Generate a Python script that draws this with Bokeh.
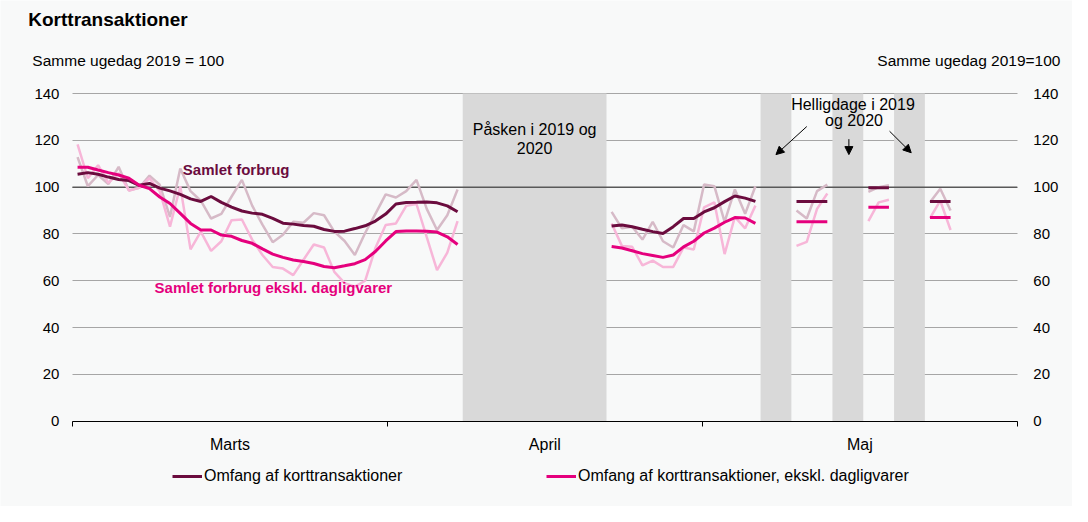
from bokeh.plotting import figure
from bokeh.models import (Range1d, LinearAxis, FixedTicker, Label, Arrow,
                          NormalHead, Legend, LegendItem)
from bokeh.embed import file_html
from bokeh.resources import INLINE

# ---------------- data (day index: 0 = 1 March 2020) ----------------
month_names = ["Marts", "April", "Maj"]

# Segment 1: 1 March - 7 April
seg1_days = list(range(0, 38))
samlet_avg_1 = [105.5, 106.2, 105.5, 104.3, 103.3, 102.8, 100.8, 101.6, 99.6, 98.4,
                96.9, 95.0, 93.9, 96.0, 93.5, 91.5, 89.8, 88.9, 88.4, 86.7,
                84.6, 84.2, 83.6, 83.3, 81.9, 81.1, 81.2, 82.3, 83.5, 85.5,
                88.5, 92.8, 93.4, 93.5, 93.7, 93.3, 92.0, 89.5]
ekskl_avg_1 = [108.5, 108.5, 107.3, 106.2, 105.2, 103.8, 100.8, 99.4, 95.8, 93.0,
               88.8, 84.5, 81.7, 81.7, 79.5, 79.0, 77.2, 76.0, 73.6, 71.4,
               70.0, 68.9, 68.2, 67.4, 66.1, 65.6, 66.4, 67.3, 69.0, 72.5,
               77.0, 81.0, 81.3, 81.3, 81.2, 80.8, 78.8, 75.5]
samlet_daily_1 = [112.8, 100.4, 105.2, 101.3, 108.7, 98.6, 99.7, 104.9, 101.0, 87.3,
                  108.0, 98.3, 94.2, 86.6, 88.6, 96.0, 103.1, 92.1, 84.0, 76.5,
                  79.7, 85.2, 84.8, 88.9, 88.0, 81.0, 77.0, 71.0, 80.4, 88.6,
                  96.9, 95.6, 98.3, 103.1, 90.7, 81.7, 88.0, 99.0]
ekskl_daily_1 = [118.3, 103.8, 109.4, 101.8, 106.0, 98.6, 99.7, 103.8, 98.3, 83.1,
                 100.4, 73.4, 81.0, 72.8, 76.9, 85.9, 86.2, 77.6, 71.0, 65.9,
                 65.2, 62.4, 69.0, 75.5, 74.2, 63.8, 59.0, 57.5, 60.0, 74.0,
                 83.8, 84.5, 92.0, 92.8, 78.6, 64.5, 72.0, 85.5]

# Segment 2: 22 April - 6 May
seg2_days = list(range(52, 67))
samlet_avg_2 = [83.4, 83.8, 83.1, 82.0, 81.0, 80.2, 83.1, 86.6, 86.6, 89.4,
                91.2, 93.8, 96.2, 95.3, 93.9]
ekskl_avg_2 = [74.6, 74.0, 72.8, 71.6, 70.8, 70.0, 71.0, 74.5, 76.9, 80.4,
               82.5, 85.0, 87.0, 86.8, 84.5]
samlet_daily_2 = [89.4, 82.4, 83.1, 77.6, 85.2, 76.9, 74.2, 83.8, 81.1, 101.1,
                  100.4, 85.2, 99.0, 88.6, 100.4]
ekskl_daily_2 = [84.5, 74.9, 74.5, 66.6, 68.6, 65.9, 65.9, 74.2, 73.4, 91.4,
                 93.5, 71.4, 87.3, 82.4, 92.1]

# Short May segments between holidays
may_days = [[70, 71, 72, 73], [77, 78, 79], [83, 84, 85]]
samlet_daily_may = [[90.0, 86.6, 98.3, 101.1], [98.0, 100.0, 100.8], [93.5, 99.3, 90.0]]
ekskl_daily_may = [[74.9, 76.6, 90.7, 97.3], [85.5, 93.5, 94.6], [86.8, 94.2, 81.7]]
samlet_avg_may = [93.9, 99.7, 93.9]
ekskl_avg_may = [85.2, 91.4, 87.0]

# Closed periods (Easter and holidays), day index
closed_start = [37.5, 66.5, 73.5, 79.5]
closed_end = [51.5, 69.5, 76.5, 82.5]

y_ticks = [0, 20, 40, 60, 80, 100, 120, 140]
reference_level = 100

# ---------------- styling / layout ----------------
FONT = "Liberation Sans"
BG = "#f8f9f9"
DARK = "#6b0c3e"
PINK = "#e5007d"
DARK_LIGHT = "#d6bac7"
PINK_LIGHT = "#f7b6d8"
SHADE = "#d9d9d9"
GRID = "#a6a6a6"

W, H = 1072, 506
X0, X1 = -0.5, 91.5          # axis extent (days)
Y0, Y1 = 0, 140              # axis extent (index)
# the frame fills the whole figure; axes sit at fixed locations inside it
XL, XR = -7.503, 96.873
YB, YT = -36.45, 179.75

p = figure(width=W, height=H, output_backend="svg", toolbar_location=None,
           x_range=Range1d(XL, XR), y_range=Range1d(YB, YT),
           min_border=0, background_fill_color=BG, border_fill_color=BG,
           outline_line_color=None)

# horizontal grid limited to the axis extent
p.ygrid.ticker = FixedTicker(ticks=y_ticks)
p.xgrid.grid_line_color = None
try:
    p.ygrid.cross_bounds = (X0, X1)
    p.ygrid.grid_line_color = GRID
    p.ygrid.grid_line_width = 1
except AttributeError:
    p.ygrid.grid_line_color = None
    p.segment(x0=[X0] * len(y_ticks), x1=[X1] * len(y_ticks), y0=y_ticks, y1=y_ticks,
              line_color=GRID, line_width=1)

# shaded closures
p.quad(left=closed_start, right=closed_end, bottom=Y0, top=Y1,
       fill_color=SHADE, line_color=None)

# reference line at 100
p.segment(x0=[X0], x1=[X1], y0=[reference_level], y1=[reference_level],
          line_color="#595959", line_width=1.5)

# daily (light) lines
for d, s, e in [(seg1_days, samlet_daily_1, ekskl_daily_1),
                (seg2_days, samlet_daily_2, ekskl_daily_2)] + \
        list(zip(may_days, samlet_daily_may, ekskl_daily_may)):
    p.line(d, s, line_color=DARK_LIGHT, line_width=2.5)
    p.line(d, e, line_color=PINK_LIGHT, line_width=2.5)

# averages
r_dark = p.line(seg1_days, samlet_avg_1, line_color=DARK, line_width=3)
r_pink = p.line(seg1_days, ekskl_avg_1, line_color=PINK, line_width=3)
p.line(seg2_days, samlet_avg_2, line_color=DARK, line_width=3)
p.line(seg2_days, ekskl_avg_2, line_color=PINK, line_width=3)
p.segment(x0=[d[0] for d in may_days], x1=[d[-1] for d in may_days],
          y0=samlet_avg_may, y1=samlet_avg_may, line_color=DARK, line_width=3)
p.segment(x0=[d[0] for d in may_days], x1=[d[-1] for d in may_days],
          y0=ekskl_avg_may, y1=ekskl_avg_may, line_color=PINK, line_width=3)

# ---------------- axes ----------------
edges = [X0 + k * (X1 - X0) / 3 for k in range(4)]
centers = [(edges[k] + edges[k + 1]) / 2 for k in range(3)]
xa = p.xaxis[0]
xa.fixed_location = Y0
xa.bounds = (X0, X1)
xa.ticker = FixedTicker(ticks=centers, minor_ticks=edges)
xa.major_label_overrides = {c: n for c, n in zip(centers, month_names)}
xa.major_tick_line_color = None
xa.major_tick_out = 0
xa.major_tick_in = 0
xa.minor_tick_out = 5
xa.minor_tick_in = 0
xa.minor_tick_line_color = "black"
xa.axis_line_color = "black"
xa.major_label_standoff = 10
xa.major_label_text_font = FONT
xa.major_label_text_font_size = "16px"
xa.major_label_text_color = "black"

ya = p.yaxis[0]
ya.fixed_location = X0
ya.bounds = (Y0, Y1)
ya.ticker = FixedTicker(ticks=y_ticks)
ya.axis_line_color = None
ya.major_tick_line_color = None
ya.minor_tick_line_color = None
ya.major_tick_out = 0
ya.major_label_standoff = 13
ya.major_label_text_font = FONT
ya.major_label_text_font_size = "15px"
ya.major_label_text_color = "black"

yr = LinearAxis(ticker=FixedTicker(ticks=y_ticks), fixed_location=X1, bounds=(Y0, Y1),
                axis_line_color=None, major_tick_line_color=None,
                minor_tick_line_color=None, major_tick_out=0,
                major_label_standoff=16, major_label_text_font=FONT,
                major_label_text_font_size="15px", major_label_text_color="black")
p.add_layout(yr, "right")

# ---------------- texts ----------------
def label(text, x, y, size, align="left", bold=False, color="black"):
    p.add_layout(Label(x=x, y=y, text=text, text_font=FONT, text_font_size=size,
                       text_align=align, text_baseline="middle", text_color=color,
                       text_font_style="bold" if bold else "normal"))

label("Korttransaktioner", -4.8, 171.7, "19px", bold=True)
label("Samme ugedag 2019 = 100", -4.4, 154.1, "15.5px")
label("Samme ugedag 2019=100", 95.7, 154.1, "15.5px", align="right")

label("Samlet forbrug", 10.25, 107.7, "15px", bold=True, color=DARK)
label("Samlet forbrug ekskl. dagligvarer", 7.5, 57.2, "15px", bold=True, color=PINK)
easter_mid = (closed_start[0] + closed_end[0]) / 2
label("Påsken i 2019 og", easter_mid, 124.7, "16px", align="center")
label("2020", easter_mid, 116.8, "16px", align="center")
label("Helligdage i 2019", 75.5, 135.5, "16px", align="center")
label("og 2020", 75.6, 128.4, "16px", align="center")

for xs, ys, xe, ye in [(71.0, 125.9, 68.0, 113.9), (75.1, 120.5, 75.1, 113.9),
                       (79.06, 123.9, 81.17, 114.7)]:
    p.add_layout(Arrow(end=NormalHead(size=8, fill_color="black", line_color="black"),
                       x_start=xs, y_start=ys, x_end=xe, y_end=ye,
                       line_color="black", line_width=1))

# ---------------- legend (inside the frame, under the x axis) ----------------
legend = Legend(items=[LegendItem(label="Omfang af korttransaktioner", renderers=[r_dark]),
                       LegendItem(label="Omfang af korttransaktioner, ekskl. dagligvarer",
                                  renderers=[r_pink])],
                orientation="horizontal", location=(172, 20),
                label_text_font=FONT, label_text_font_size="16px",
                label_text_color="black", glyph_width=30, glyph_height=20,
                label_standoff=2, label_width=342, spacing=0,
                border_line_color=None, background_fill_alpha=0,
                padding=0, margin=0)
p.add_layout(legend, "center")

open("out.html", "w").write(file_html(p, INLINE))
